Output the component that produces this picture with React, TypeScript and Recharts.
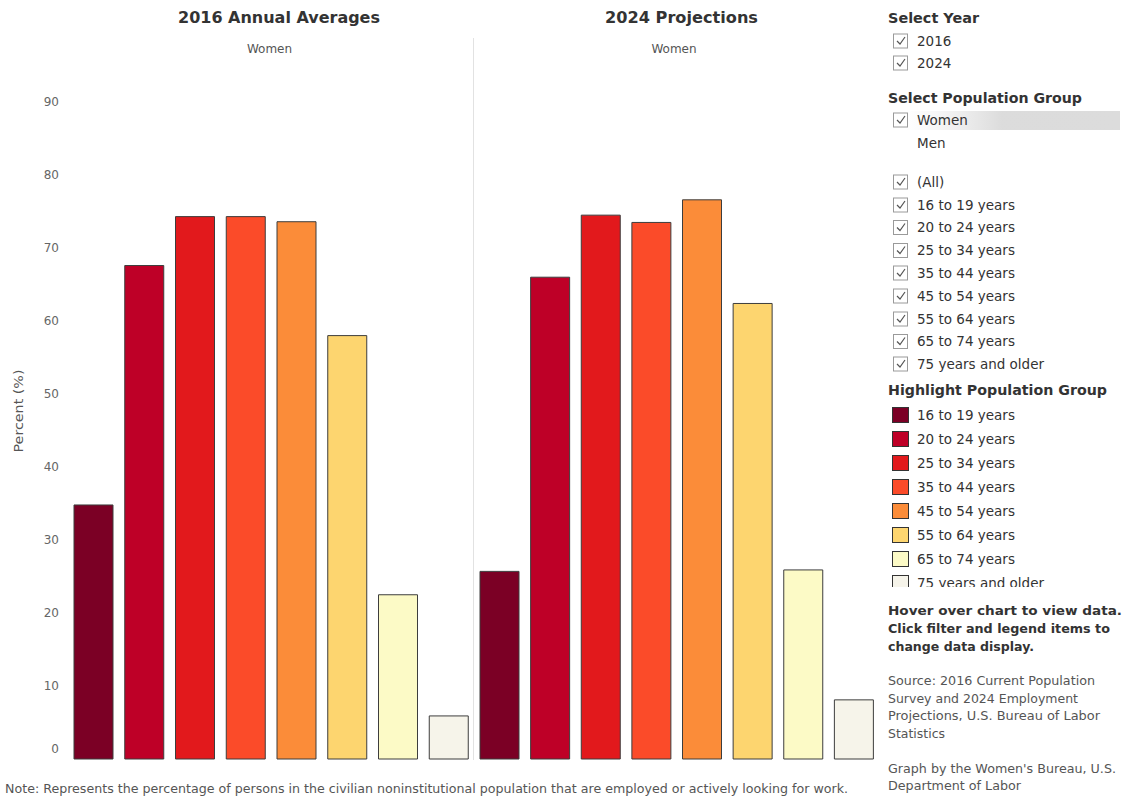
import React from 'react';
import { BarChart, Bar, XAxis, YAxis, Cell } from 'recharts';

const ageGroups = [
  '16 to 19 years',
  '20 to 24 years',
  '25 to 34 years',
  '35 to 44 years',
  '45 to 54 years',
  '55 to 64 years',
  '65 to 74 years',
  '75 years and older',
];
const values2016 = [34.8, 67.6, 74.3, 74.3, 73.6, 58.0, 22.5, 5.9];
const values2024 = [25.7, 66.0, 74.5, 73.5, 76.6, 62.4, 25.9, 8.1];
const groupColors = ['#7b0025', '#be0027', '#e2191c', '#fb4b29', '#fb8c39', '#fdd56f', '#fcfac6', '#f6f4ea'];
const yTicks = [0, 10, 20, 30, 40, 50, 60, 70, 80, 90];
const yearOptions = ['2016', '2024'];
const groupOptions = ['Women', 'Men'];

const data2016 = ageGroups.map((g, i) => ({ group: g, value: values2016[i] }));
const data2024 = ageGroups.map((g, i) => ({ group: g, value: values2024[i] }));

const FONT = 'DejaVu Sans, Verdana, sans-serif';

const YTick = (props: any) => {
  const { y, payload } = props;
  return (
    <text x={59} y={y + (payload.value === 0 ? -10 : 0)} dy={4} textAnchor="end" fontSize={12} fill="#666" fontFamily={FONT}>
      {payload.value}
    </text>
  );
};

const T = (p: { x: number; y: number; w?: number; size?: number; bold?: boolean; color?: string; anchor?: string; children: any }) => (
  <text
    x={p.x}
    y={p.y}
    dy="0.35em"
    fontSize={p.size ?? 13}
    fontWeight={p.bold ? 'bold' : 'normal'}
    fill={p.color ?? '#333'}
    fontFamily={FONT}
    textAnchor={(p.anchor as any) ?? 'start'}
    {...(p.w ? { textLength: p.w, lengthAdjust: 'spacingAndGlyphs' } : {})}
  >
    {p.children}
  </text>
);

const CheckBox = ({ y }: { y: number }) => (
  <g>
    <rect x={893.5} y={y - 7} width={14} height={14} fill="#fff" stroke="#9a9a9a" strokeWidth={1} />
    <path d={`M897,${y} L900,${y + 3} L905,${y - 4}`} fill="none" stroke="#555" strokeWidth={1.2} />
  </g>
);

const chartMargin = { top: 102, right: 0, bottom: 42, left: 0 };

export default function App() {
  const filterYs = [205, 227.5, 250.5, 273, 296, 319, 341.5, 364];
  const legendYs = [415, 439, 463, 487, 511, 535, 559, 583];
  return (
    <div style={{ position: 'absolute', left: 0, top: 0, width: 1125, height: 801, background: '#fff', overflow: 'hidden' }}>
      <div style={{ position: 'absolute', left: 0, top: 0 }}>
        <BarChart width={474} height={801} data={data2016} margin={chartMargin}>
          <XAxis dataKey="group" hide />
          <YAxis domain={[0, 90]} ticks={yTicks} width={68} axisLine={false} tickLine={false} tick={<YTick />} interval={0} />
          <Bar dataKey="value" barSize={39} isAnimationActive={false} stroke="#3d3d3d" strokeWidth={1}>
            {data2016.map((d, i) => (
              <Cell key={d.group} fill={groupColors[i]} />
            ))}
          </Bar>
        </BarChart>
      </div>
      <div style={{ position: 'absolute', left: 474, top: 0 }}>
        <BarChart width={405} height={801} data={data2024} margin={chartMargin}>
          <XAxis dataKey="group" hide />
          <YAxis domain={[0, 90]} ticks={yTicks} hide />
          <Bar dataKey="value" barSize={39} isAnimationActive={false} stroke="#3d3d3d" strokeWidth={1}>
            {data2024.map((d, i) => (
              <Cell key={d.group} fill={groupColors[i]} />
            ))}
          </Bar>
        </BarChart>
      </div>
      <svg width={1125} height={801} style={{ position: 'absolute', left: 0, top: 0, pointerEvents: 'none' }}>
        <defs>
          <linearGradient id="hl" x1="0" x2="1" y1="0" y2="0">
            <stop offset="0" stopColor="#e4e4e4" stopOpacity={0} />
            <stop offset="0.45" stopColor="#d8d8d8" stopOpacity={0.9} />
            <stop offset="1" stopColor="#dcdcdc" stopOpacity={1} />
          </linearGradient>
          <clipPath id="legclip">
            <rect x={880} y={400} width={245} height={187} />
          </clipPath>
        </defs>
        {/* divider */}
        <line x1={473.5} y1={38} x2={473.5} y2={760} stroke="#e2e2e2" strokeWidth={1} />
        {/* titles */}
        <T x={178} y={18} w={202} size={15} bold>2016 Annual Averages</T>
        <T x={605} y={18} w={153} size={15} bold>2024 Projections</T>
        <T x={269.5} y={49} size={12} color="#555" anchor="middle">Women</T>
        <T x={674} y={49} size={12} color="#555" anchor="middle">Women</T>
        {/* y label */}
        <g transform="translate(19,411) rotate(-90)">
          <text x={0} y={0} dy="0.35em" textAnchor="middle" fontSize={12.5} fill="#555" fontFamily={FONT} textLength={83} lengthAdjust="spacingAndGlyphs">
            Percent (%)
          </text>
        </g>
        {/* note */}
        <T x={5} y={789} w={843} size={12} color="#555">
          Note: Represents the percentage of persons in the civilian noninstitutional population that are employed or actively looking for work.
        </T>

        {/* filter panel */}
        <T x={888} y={18} w={91} size={14} bold>Select Year</T>
        {yearOptions.map((yr, i) => (
          <g key={yr}>
            <CheckBox y={41 + i * 22} />
            <T x={917} y={41 + i * 22} size={13.5}>{yr}</T>
          </g>
        ))}
        <T x={888} y={98} w={194} size={14} bold>Select Population Group</T>
        <rect x={905} y={111} width={215} height={19} fill="url(#hl)" />
        <CheckBox y={120} />
        <T x={917} y={120} size={13.5}>{groupOptions[0]}</T>
        <T x={917} y={143} size={13.5}>{groupOptions[1]}</T>
        <CheckBox y={182} />
        <T x={917} y={182} size={13.5}>(All)</T>
        {ageGroups.map((g, i) => (
          <g key={g}>
            <CheckBox y={filterYs[i]} />
            <T x={917} y={filterYs[i]} size={13.5}>{g}</T>
          </g>
        ))}

        <T x={888} y={390} w={219} size={14} bold>Highlight Population Group</T>
        <g clipPath="url(#legclip)">
          {ageGroups.map((g, i) => (
            <g key={g}>
              <rect x={892.5} y={legendYs[i] - 7.5} width={16} height={15} fill={groupColors[i]} stroke="#333" strokeWidth={1} />
              <T x={917} y={legendYs[i]} size={13.5}>{g}</T>
            </g>
          ))}
        </g>

        <T x={888} y={610} w={234} size={13} bold>Hover over chart to view data.</T>
        <T x={888} y={628} w={222} size={13} bold>Click filter and legend items to</T>
        <T x={888} y={646} w={146} size={13} bold>change data display.</T>

        <T x={888} y={681} w={207} size={12.5} color="#555">Source: 2016 Current Population</T>
        <T x={888} y={698.5} w={190} size={12.5} color="#555">Survey and 2024 Employment</T>
        <T x={888} y={716} w={212} size={12.5} color="#555">Projections, U.S. Bureau of Labor</T>
        <T x={888} y={733.5} w={57} size={12.5} color="#555">Statistics</T>
        <T x={888} y={769} w={228} size={12.5} color="#555">Graph by the Women's Bureau, U.S.</T>
        <T x={888} y={786} w={133} size={12.5} color="#555">Department of Labor</T>
      </svg>
    </div>
  );
}
